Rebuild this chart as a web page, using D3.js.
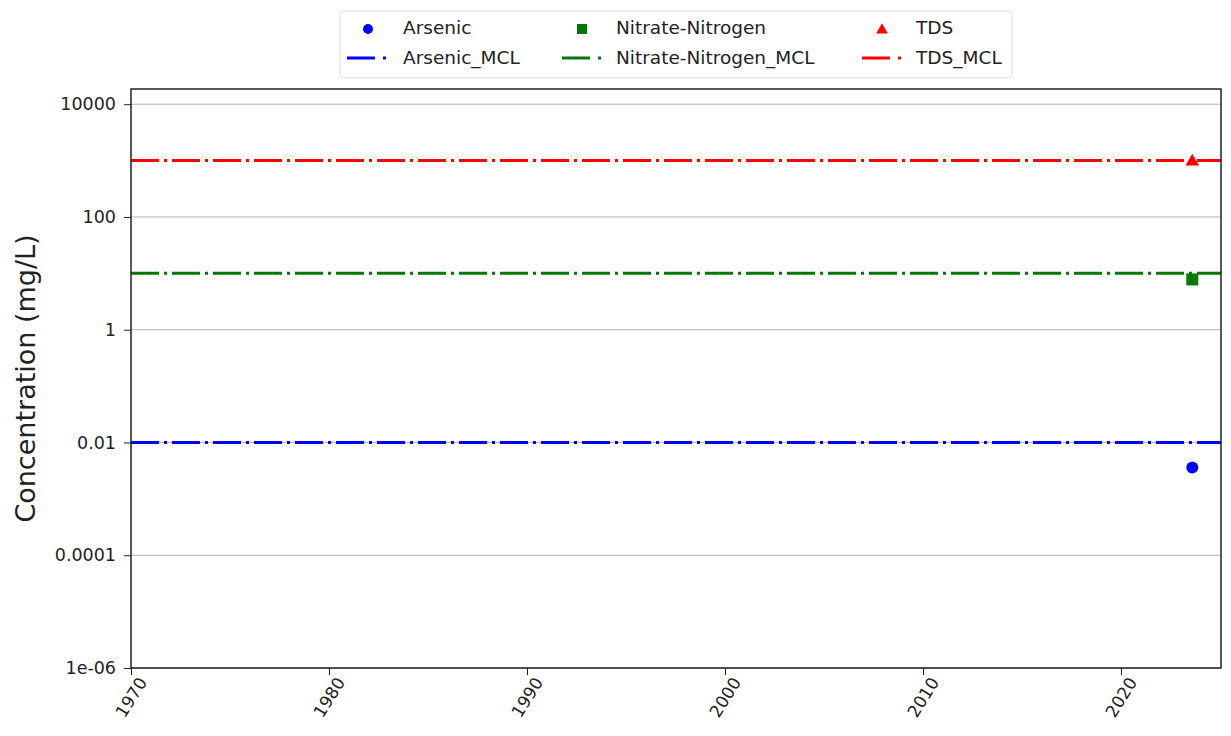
<!DOCTYPE html>
<html>
<head>
<meta charset="UTF-8">
<script src="https://d3js.org/d3.v7.min.js"></script>
<style>
  body { margin: 0; background: #fff; }
  svg text { font-family: "DejaVu Sans", sans-serif; fill: #222; }
</style>
</head>
<body>
<svg id="chart"></svg>
<script>
// sample values (year, mg/L)
const arsenic = [[2023.6, 0.0036]];
const nitrate = [[2023.6, 7.8]];
const tds = [[2023.6, 960]];

// MCL limits
const mclNames = ["Arsenic_MCL", "Nitrate-Nitrogen_MCL", "TDS_MCL"];
const mclValues = [0.01, 10, 1000];
const mclColors = ["#0000ff", "#007a00", "#ff0000"];

const yTicks = [1e-6, 1e-4, 1e-2, 1, 100, 10000];
const yTickLabels = ["1e-06", "0.0001", "0.01", "1", "100", "10000"];
const xTicks = [1970, 1980, 1990, 2000, 2010, 2020];

const width = 1231, height = 736;
const margin = {top: 89, right: 10, bottom: 68, left: 131};

const svg = d3.select("#chart").attr("width", width).attr("height", height);

const x = d3.scaleLinear().domain([1970, 2025.05]).range([margin.left, width - margin.right]);
const y = d3.scaleLog().domain([1e-6, 18600]).range([height - margin.bottom, margin.top]);

// grid
svg.append("g")
  .selectAll("line")
  .data(yTicks)
  .enter()
  .append("line")
    .attr("x1", margin.left).attr("x2", width - margin.right)
    .attr("y1", d => y(d)).attr("y2", d => y(d))
    .attr("stroke", "#b0b0b0").attr("stroke-width", 1);

// MCL lines
svg.append("g")
  .selectAll("line")
  .data(mclValues)
  .enter()
  .append("line")
    .attr("x1", margin.left).attr("x2", width - margin.right)
    .attr("y1", d => y(d)).attr("y2", d => y(d))
    .attr("stroke", (d, i) => mclColors[i])
    .attr("stroke-width", 3)
    .attr("stroke-dasharray", "28,5,3,5");

// points
svg.append("g").selectAll("circle").data(arsenic).enter().append("circle")
  .attr("cx", d => x(d[0])).attr("cy", d => y(d[1])).attr("r", 6).attr("fill", "#0000ff");

svg.append("g").selectAll("rect").data(nitrate).enter().append("rect")
  .attr("x", d => x(d[0]) - 6).attr("y", d => y(d[1]) - 6)
  .attr("width", 12).attr("height", 12).attr("fill", "#007a00");

const tri = d3.symbol().type(d3.symbolTriangle).size(80);
svg.append("g").selectAll("path").data(tds).enter().append("path")
  .attr("transform", d => `translate(${x(d[0])},${y(d[1])})`)
  .attr("d", tri).attr("fill", "#ff0000");

// axes
const yAxis = d3.axisLeft(y).tickValues(yTicks).tickFormat((d, i) => yTickLabels[i]).tickSize(7).tickPadding(8);
const gy = svg.append("g").attr("transform", `translate(${margin.left},0)`).call(yAxis);
gy.select(".domain").remove();
gy.selectAll("text").style("font-size", "17.5px");

const xAxis = d3.axisBottom(x).tickValues(xTicks).tickFormat(d3.format("d")).tickSize(7).tickPadding(4);
const gx = svg.append("g").attr("transform", `translate(0,${height - margin.bottom})`).call(xAxis);
gx.select(".domain").remove();
gx.selectAll("text")
  .style("font-size", "17px")
  .attr("text-anchor", "end")
  .attr("dx", "-0.2em").attr("dy", "0.6em")
  .attr("transform", "rotate(-58)");

svg.selectAll(".tick line").attr("stroke", "#222");

// frame
svg.append("rect")
  .attr("x", margin.left).attr("y", margin.top)
  .attr("width", width - margin.right - margin.left)
  .attr("height", height - margin.bottom - margin.top)
  .attr("fill", "none").attr("stroke", "#222").attr("stroke-width", 1.5);

// y label
svg.append("text")
  .attr("transform", `translate(35,${(margin.top + height - margin.bottom) / 2}) rotate(-90)`)
  .attr("text-anchor", "middle")
  .style("font-size", "27px")
  .text("Concentration (mg/L)");

// legend
const legend = svg.append("g");
legend.append("rect")
  .attr("x", 340).attr("y", 11).attr("width", 672).attr("height", 67)
  .attr("fill", "#fff").attr("stroke", "#ddd").attr("rx", 3);

const colX = [347, 562, 862];
const textX = [403, 616, 916];
const pointNames = ["Arsenic", "Nitrate-Nitrogen", "TDS"];

legend.selectAll(".ptxt").data(pointNames).enter().append("text")
  .attr("x", (d, i) => textX[i]).attr("y", 28).attr("dy", "0.35em")
  .style("font-size", "18.5px").text(d => d);
legend.selectAll(".ltxt").data(mclNames).enter().append("text")
  .attr("x", (d, i) => textX[i]).attr("y", 58).attr("dy", "0.35em")
  .style("font-size", "18.5px").text(d => d);

legend.append("circle").attr("cx", 368).attr("cy", 29).attr("r", 5).attr("fill", "#0000ff");
legend.append("rect").attr("x", 577).attr("y", 24).attr("width", 10).attr("height", 10).attr("fill", "#007a00");
legend.append("path").attr("transform", "translate(882,30)")
  .attr("d", d3.symbol().type(d3.symbolTriangle).size(60)).attr("fill", "#ff0000");

legend.selectAll(".lline").data(mclColors).enter().append("line")
  .attr("x1", (d, i) => colX[i]).attr("x2", (d, i) => colX[i] + 43)
  .attr("y1", 58).attr("y2", 58)
  .attr("stroke", d => d).attr("stroke-width", 3)
  .attr("stroke-dasharray", "28,8,3,20");
</script>
</body>
</html>
